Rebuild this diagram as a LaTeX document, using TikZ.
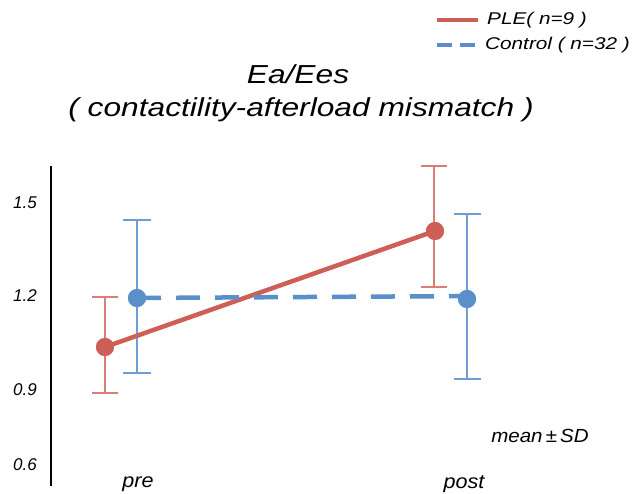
\documentclass[tikz,border=0pt]{standalone}
\usepackage{fontspec}
\setmainfont{Liberation Sans}
\newfontfamily\widefont[FakeStretch=1.22]{Liberation Sans}
\newfontfamily\midfont[FakeStretch=1.08]{Liberation Sans}
\definecolor{plered}{HTML}{CD5F57}
\definecolor{ctlblue}{HTML}{5A8FCA}
\definecolor{plebar}{HTML}{DC7D75}
\definecolor{ctlbar}{HTML}{6E9DD3}
\tikzset{
  lbl/.style={font=\itshape\fontsize{#1}{#1}\selectfont, inner sep=0pt},
  wlbl/.style={font=\widefont\itshape\fontsize{#1}{#1}\selectfont, inner sep=0pt},
  mlbl/.style={font=\midfont\itshape\fontsize{#1}{#1}\selectfont, inner sep=0pt},
  pledot/.style={circle, fill=plered, inner sep=0pt, minimum size=18pt},
  ctldot/.style={circle, fill=ctlblue, inner sep=0pt, minimum size=18pt},
  plebarline/.style={draw=plebar, line width=1.2pt},
  ctlbarline/.style={draw=ctlbar, line width=1.2pt},
  pleline/.style={draw=plered, line width=4.5pt},
  ctlline/.style={draw=ctlblue, line width=4.5pt, dash pattern=on 24pt off 15pt},
}
\begin{document}
\begin{tikzpicture}[x=1pt,y=-1pt]
\useasboundingbox[fill=white] (0,0) rectangle (633,494);
% legend
\coordinate (lpa) at (437,20); \coordinate (lpb) at (478,20);
\coordinate (lca) at (437,45); \coordinate (lcb) at (478,45);
\draw[pleline] (lpa) -- (lpb);
\draw[ctlline, dash pattern=on 15pt off 8pt] (lca) -- (lcb);
\node[wlbl=17, anchor=west] (legp) at (487,20) {PLE( n=9 )};
\node[wlbl=17, anchor=west] (legc) at (485,45) {Control ( n=32 )};
% title
\node[wlbl=26] (t1) at (298,74) {Ea/Ees};
\node[wlbl=26] (t2) at (301,110) {( contactility-afterload mismatch )};
% axis
\coordinate (ax1) at (51,166); \coordinate (ax2) at (51,486);
\draw[line width=2.5pt] (ax1) -- (ax2);
\node[lbl=17] (y15) at (25,203) {1.5};
\node[lbl=17] (y12) at (25,296) {1.2};
\node[lbl=17] (y09) at (25,390) {0.9};
\node[lbl=17] (y06) at (25,465) {0.6};
\node[mlbl=20] (pre) at (138,484) {pre};
\node[mlbl=20] (post) at (464,484) {post};
\node[mlbl=19] (msd) at (540,436) {mean\,±\,SD};
% error bars
\coordinate (pa1) at (105,297); \coordinate (pa2) at (105,393);
\draw[plebarline] (pa1) -- (pa2) (92,297) -- (118,297) (92,393) -- (118,393);
\coordinate (ca1) at (137,220); \coordinate (ca2) at (137,373);
\draw[ctlbarline] (ca1) -- (ca2) (123,220) -- (151,220) (123,373) -- (151,373);
\coordinate (pb1) at (434,166); \coordinate (pb2) at (434,287);
\draw[plebarline] (pb1) -- (pb2) (421,166) -- (447,166) (421,287) -- (447,287);
\coordinate (cb1) at (467,214); \coordinate (cb2) at (467,379);
\draw[ctlbarline] (cb1) -- (cb2) (454,214) -- (481,214) (454,379) -- (481,379);
% points
\node[pledot] (ple1) at (105,347) {};
\node[pledot] (ple2) at (435,231) {};
\node[ctldot] (ctl1) at (137,298) {};
\node[ctldot] (ctl2) at (467,299) {};
\coordinate (ctlend) at (478,296);
\draw[pleline] (ple1.center) -- (ple2.center);
\draw[ctlline] (ctl1.center) -- (ctlend);
\node[pledot] at (ple1) {};
\node[pledot] at (ple2) {};
\node[ctldot] at (ctl1) {};
\node[ctldot] at (ctl2) {};
\end{tikzpicture}
\end{document}
